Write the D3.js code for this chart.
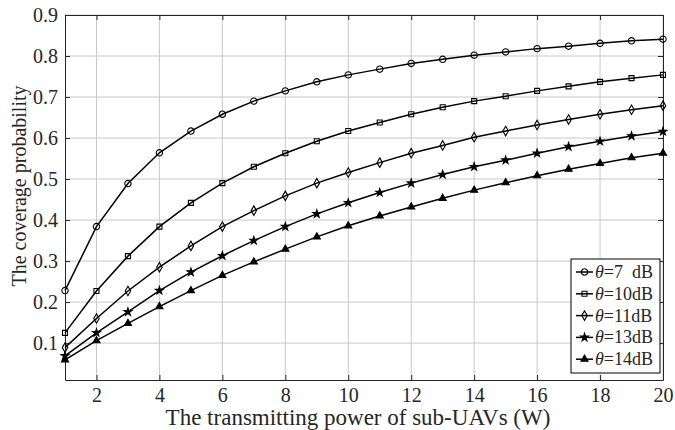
<!DOCTYPE html>
<html>
<head>
<meta charset="utf-8">
<script src="https://cdn.jsdelivr.net/npm/d3@7"></script>
<style>
  body { margin: 0; background: #fff; }
  text { font-family: "Liberation Serif", "DejaVu Serif", serif; fill: #262626; }
</style>
</head>
<body>
<div id="chart"></div>
<script>
const power = d3.range(1, 21)

const theta7  = [0.228, 0.384, 0.489, 0.564, 0.617, 0.658, 0.690, 0.715, 0.737, 0.754, 0.768, 0.782, 0.792, 0.802, 0.810, 0.818, 0.824, 0.831, 0.837, 0.841]
const theta10 = [0.125, 0.227, 0.312, 0.384, 0.442, 0.490, 0.530, 0.563, 0.592, 0.617, 0.638, 0.658, 0.675, 0.690, 0.702, 0.715, 0.726, 0.737, 0.746, 0.754]
const theta11 = [0.089, 0.160, 0.227, 0.285, 0.337, 0.384, 0.423, 0.459, 0.490, 0.516, 0.540, 0.563, 0.582, 0.602, 0.617, 0.632, 0.645, 0.658, 0.669, 0.679]
const theta13 = [0.069, 0.125, 0.176, 0.228, 0.273, 0.313, 0.350, 0.384, 0.415, 0.442, 0.467, 0.490, 0.511, 0.530, 0.546, 0.563, 0.579, 0.592, 0.605, 0.616]
const theta14 = [0.059, 0.106, 0.148, 0.189, 0.228, 0.265, 0.298, 0.329, 0.359, 0.386, 0.410, 0.432, 0.453, 0.473, 0.491, 0.508, 0.524, 0.538, 0.552, 0.563]

const seriesNames = ["7  dB", "10dB", "11dB", "13dB", "14dB"]
const seriesMarkers = ["circle", "square", "diamond", "star", "triangle"]
const seriesValues = [theta7, theta10, theta11, theta13, theta14]

const xTicks = [2, 4, 6, 8, 10, 12, 14, 16, 18, 20]
const yTicks = [0.1, 0.2, 0.3, 0.4, 0.5, 0.6, 0.7, 0.8, 0.9]

const width = 675, height = 430
const m = { left: 65, right: 663, top: 15, bottom: 380 }

const svg = d3.select("#chart").append("svg")
   .attr("width", width)
   .attr("height", height)

const x = d3.scaleLinear().domain([1, 20]).range([m.left, m.right])
const y = d3.scaleLinear().domain([0.01, 0.9]).range([m.bottom, m.top])

// grid
svg.append("g").selectAll("line").data(xTicks).enter().append("line")
   .attr("x1", d => x(d)).attr("x2", d => x(d))
   .attr("y1", m.top).attr("y2", m.bottom)
   .attr("stroke", "#c8c8c8").attr("stroke-width", 1)
svg.append("g").selectAll("line").data(yTicks).enter().append("line")
   .attr("x1", m.left).attr("x2", m.right)
   .attr("y1", d => y(d)).attr("y2", d => y(d))
   .attr("stroke", "#c8c8c8").attr("stroke-width", 1)

// axes (ticks inward, like matlab)
svg.append("g")
   .attr("transform", "translate(0," + m.bottom + ")")
   .call(d3.axisBottom(x).tickValues(xTicks).tickSizeInner(-5).tickSizeOuter(0).tickPadding(8))
svg.append("g")
   .attr("transform", "translate(0," + m.top + ")")
   .call(d3.axisTop(x).tickValues(xTicks).tickSizeInner(-5).tickSizeOuter(0).tickFormat(""))
svg.append("g")
   .attr("transform", "translate(" + m.left + ",0)")
   .call(d3.axisLeft(y).tickValues(yTicks).tickSizeInner(-5).tickSizeOuter(0).tickPadding(7).tickFormat(d3.format(".1f")))
svg.append("g")
   .attr("transform", "translate(" + m.right + ",0)")
   .call(d3.axisRight(y).tickValues(yTicks).tickSizeInner(-5).tickSizeOuter(0).tickFormat(""))

svg.selectAll(".domain").attr("stroke", "#262626")
svg.selectAll(".tick line").attr("stroke", "#262626")
svg.selectAll(".tick text").style("font-size", "20px").style("font-family", "Liberation Serif").attr("fill", "#262626")

// labels
svg.append("text")
   .attr("x", 358).attr("y", 425)
   .attr("text-anchor", "middle")
   .style("font-size", "23px")
   .text("The transmitting power of sub-UAVs (W)")
svg.append("text")
   .attr("transform", "translate(26,186) rotate(-90)")
   .attr("text-anchor", "middle")
   .style("font-size", "20px")
   .text("The coverage probability")

const symbolOf = {
   circle: d3.symbol().type(d3.symbolCircle).size(32),
   square: d3.symbol().type(d3.symbolSquare).size(25),
   diamond: d3.symbol().type(d3.symbolDiamond).size(26),
   star: d3.symbol().type(d3.symbolStar).size(19),
   triangle: d3.symbol().type(d3.symbolTriangle).size(22)
}
const filled = { circle: false, square: false, diamond: false, star: true, triangle: true }

const line = d3.line().x((d, i) => x(power[i])).y(d => y(d))

seriesValues.forEach((vals, k) => {
   const mk = seriesMarkers[k]
   svg.append("path")
      .datum(vals)
      .attr("d", line)
      .attr("fill", "none")
      .attr("stroke", "#000")
      .attr("stroke-width", 1.5)
   svg.append("g").selectAll("path").data(vals).enter().append("path")
      .attr("d", symbolOf[mk])
      .attr("transform", (d, i) => "translate(" + x(power[i]) + "," + y(d) + ")")
      .attr("fill", filled[mk] ? "#000" : "none")
      .attr("stroke", "#000")
      .attr("stroke-width", 1.1)
})

// legend
const lg = svg.append("g").attr("transform", "translate(571,259)")
lg.append("rect")
   .attr("width", 89).attr("height", 114)
   .attr("fill", "#fff").attr("stroke", "#000").attr("stroke-width", 1)
seriesNames.forEach((name, k) => {
   const ry = 13 + k * 21.8
   const mk = seriesMarkers[k]
   lg.append("line")
      .attr("x1", 5).attr("x2", 22).attr("y1", ry).attr("y2", ry)
      .attr("stroke", "#000").attr("stroke-width", 1.5)
   lg.append("path")
      .attr("d", symbolOf[mk])
      .attr("transform", "translate(13.5," + ry + ")")
      .attr("fill", filled[mk] ? "#000" : "none")
      .attr("stroke", "#000").attr("stroke-width", 1.1)
   const t = lg.append("text")
      .attr("x", 24).attr("y", ry + 6)
      .style("font-size", "18px")
      .style("white-space", "pre")
      .attr("fill", "#000")
   t.append("tspan").style("font-style", "italic").text("θ")
   t.append("tspan").text("=" + name)
})
</script>
</body>
</html>
